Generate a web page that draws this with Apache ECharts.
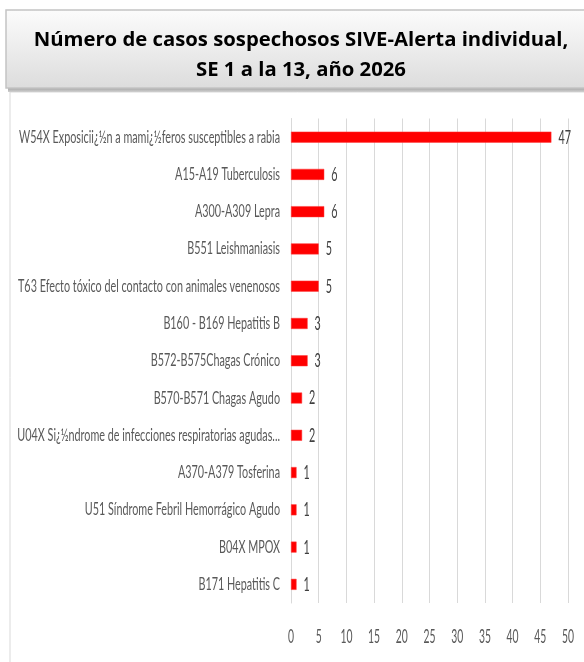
<!DOCTYPE html>
<html>
<head>
<meta charset="utf-8">
<script src="https://cdn.jsdelivr.net/npm/echarts@6/dist/echarts.min.js"></script>
<style>
  html, body { margin: 0; padding: 0; background: #fff; }
  #chart { width: 584px; height: 662px; }
</style>
</head>
<body>
<div id="chart"></div>
<script>
// categorias (de arriba hacia abajo)
const categorias = [
  "W54X Exposicii¿½n a mami¿½feros susceptibles a rabia",
  "A15-A19 Tuberculosis",
  "A300-A309 Lepra",
  "B551 Leishmaniasis",
  "T63 Efecto tóxico del contacto con animales venenosos",
  "B160 - B169 Hepatitis B",
  "B572-B575Chagas Crónico",
  "B570-B571 Chagas Agudo",
  "U04X Si¿½ndrome de infecciones respiratorias agudas...",
  "A370-A379 Tosferina",
  "U51 Síndrome Febril Hemorrágico Agudo",
  "B04X MPOX",
  "B171 Hepatitis C"
];
const casos = [47, 6, 6, 5, 5, 3, 3, 2, 2, 1, 1, 1, 1];
const ticksX = [0, 5, 10, 15, 20, 25, 30, 35, 40, 45, 50];

const tituloLinea1 = "Número de casos sospechosos SIVE-Alerta individual,";
const tituloLinea2 = "SE 1 a la 13, año 2026";

const chart = echarts.init(document.getElementById("chart"));

// la fuente del original es muy estrecha: se usa Lato comprimida en horizontal
const fuente = "Lato";
const ctx = document.createElement("canvas").getContext("2d");
function medir(txt, size) {
  ctx.font = size + "px " + fuente;
  return ctx.measureText(txt).width;
}
const escCat = 262 / medir(categorias[4], 17);
const escVal = 12.5 / medir("47", 20);
const escEje = 12 / medir("50", 19);

function fondo() {
  return [
    {
      id: "marco", type: "rect", z: 0,
      shape: { x: 10, y: 92, width: 600, height: 600 },
      style: { fill: "#ffffff", stroke: "#d9d9d9", lineWidth: 1 }
    },
    {
      id: "sombra", type: "rect", z: 1,
      shape: { x: 8, y: 87, width: 600, height: 5 },
      style: {
        fill: new echarts.graphic.LinearGradient(0, 0, 0, 1, [
          { offset: 0, color: "#9a9a9a" },
          { offset: 1, color: "#d0d0d0" }
        ])
      }
    },
    {
      id: "cajaTitulo", type: "rect", z: 2,
      shape: { x: 6, y: 10, width: 600, height: 78 },
      style: {
        fill: new echarts.graphic.LinearGradient(0, 0, 0, 1, [
          { offset: 0, color: "#fcfcfc" },
          { offset: 1, color: "#dcdcdc" }
        ]),
        stroke: "#c4c4c4",
        lineWidth: 1.5
      }
    }
  ];
}

chart.setOption({
  animation: false,
  backgroundColor: "#ffffff",
  graphic: fondo(),
  title: {
    text: tituloLinea1 + "\n" + tituloLinea2,
    left: 296,
    top: 20,
    textAlign: "center",
    z: 10,
    textStyle: {
      fontFamily: "'Open Sans', sans-serif",
      fontWeight: "bold",
      fontSize: 20.3,
      lineHeight: 30,
      color: "#000000"
    }
  },
  grid: {
    left: 291,
    right: 16,
    top: 118.5,
    bottom: 59,
    containLabel: false,
    outerBoundsMode: "none"
  },
  xAxis: {
    type: "value",
    min: ticksX[0],
    max: ticksX[ticksX.length - 1],
    interval: ticksX[1] - ticksX[0],
    axisLine: { show: false },
    axisTick: { show: false },
    splitLine: { show: true, lineStyle: { color: "#d9d9d9", width: 1 } },
    axisLabel: { show: false }
  },
  yAxis: {
    type: "category",
    data: categorias,
    inverse: true,
    axisLine: { show: true, lineStyle: { color: "#d9d9d9" } },
    axisTick: { show: false },
    axisLabel: { show: false }
  },
  series: [
    {
      type: "bar",
      data: casos,
      barWidth: 11,
      itemStyle: { color: "#ff0000", borderColor: "#ff3a3a", borderWidth: 0.5 }
    }
  ]
});

// etiquetas colocadas con las escalas del grafico
const etiquetas = [];
const x0 = chart.convertToPixel({ xAxisIndex: 0 }, ticksX[0]);
categorias.forEach(function (c, i) {
  const y = chart.convertToPixel({ yAxisIndex: 0 }, i);
  etiquetas.push({
    type: "text", z: 5,
    x: x0 - 11, y: y, scaleX: escCat,
    style: {
      text: c, x: 0, y: 0, align: "right", verticalAlign: "middle",
      font: "17px " + fuente, fill: "#595959"
    }
  });
  const p = chart.convertToPixel({ seriesIndex: 0 }, [casos[i], i]);
  etiquetas.push({
    type: "text", z: 5,
    x: p[0] + 7, y: p[1], scaleX: escVal,
    style: {
      text: String(casos[i]), x: 0, y: 0, align: "left", verticalAlign: "middle",
      font: "20px " + fuente, fill: "#404040"
    }
  });
});
const yEje = chart.getModel().getComponent("grid").coordinateSystem.getRect();
ticksX.forEach(function (t) {
  const x = chart.convertToPixel({ xAxisIndex: 0 }, t);
  etiquetas.push({
    type: "text", z: 5,
    x: x, y: yEje.y + yEje.height + 34, scaleX: escEje,
    style: {
      text: String(t), x: 0, y: 0, align: "center", verticalAlign: "middle",
      font: "19px " + fuente, fill: "#595959"
    }
  });
});

chart.setOption({ graphic: fondo().concat(etiquetas) });
</script>
</body>
</html>
